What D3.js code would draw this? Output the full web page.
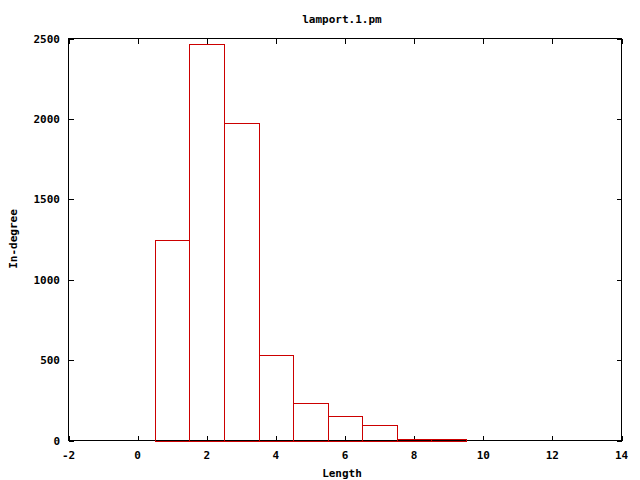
<!DOCTYPE html>
<html><head><meta charset="utf-8">
<script src="https://cdn.jsdelivr.net/npm/d3@7"></script>
<style>body{margin:0;background:#fff}text{font-family:"DejaVu Sans Mono",monospace;font-weight:bold;font-size:11px;fill:#000}</style>
</head><body>
<svg id="c" width="640" height="480" shape-rendering="crispEdges"></svg>
<script>
const lengths = [1, 2, 3, 4, 5, 6, 7, 8, 9];
const inDegree = [1245, 2465, 1972, 530, 231, 155, 98, 9, 8];
const xTicks = [-2, 0, 2, 4, 6, 8, 10, 12, 14];
const yTicks = [0, 500, 1000, 1500, 2000, 2500];
const title = "lamport.1.pm";
const xLabel = "Length";
const yLabel = "In-degree";

const svg = d3.select("#c");
const L = 68.5, R = 621.5, T = 38.5, B = 440.5;
const x = d3.scaleLinear().domain([-2, 14]).range([L, R]);
const y = d3.scaleLinear().domain([0, 2500]).range([B, T]);
const tk = 5;

const g = svg.append("g").attr("stroke", "#000").attr("stroke-width", 1);
// ticks
xTicks.forEach(v => {
  const px = Math.round(x(v)) + 0.5;
  g.append("line").attr("x1", px).attr("x2", px).attr("y1", B).attr("y2", B - tk);
  g.append("line").attr("x1", px).attr("x2", px).attr("y1", T).attr("y2", T + tk);
});
yTicks.forEach(v => {
  const py = Math.round(y(v)) + 0.5;
  g.append("line").attr("x1", L).attr("x2", L + tk).attr("y1", py).attr("y2", py);
  g.append("line").attr("x1", R).attr("x2", R - tk).attr("y1", py).attr("y2", py);
});
// frame
g.append("rect").attr("x", L).attr("y", T).attr("width", R - L).attr("height", B - T).attr("fill", "none");

// bars (drawn as outline paths on top of the frame)
svg.append("g").selectAll("path").data(lengths).join("path")
  .attr("d", (d, i) => {
    const x0 = Math.round(x(d - 0.5)) + 0.5, x1 = Math.round(x(d + 0.5)) + 0.5;
    const y0 = Math.round(y(0)) + 0.5, y1 = Math.round(y(inDegree[i])) + 0.5;
    return `M${x0},${y0}V${y1}H${x1}V${y0}Z`;
  })
  .attr("fill", "none").attr("stroke", "#cc0000").attr("stroke-width", 1);

// labels
svg.append("g").selectAll("text").data(xTicks).join("text")
  .attr("x", d => x(d)).attr("y", 459).attr("text-anchor", "middle").text(d => d);
svg.append("g").selectAll("text").data(yTicks).join("text")
  .attr("x", 60).attr("y", d => y(d) + 4).attr("text-anchor", "end").text(d => d);

svg.append("text").attr("x", 342).attr("y", 23).attr("text-anchor", "middle").text(title);
svg.append("text").attr("x", 342).attr("y", 477).attr("text-anchor", "middle").text(xLabel);
svg.append("text").attr("transform", "translate(17,239) rotate(-90)").attr("text-anchor", "middle").text(yLabel);
</script>
</body></html>
